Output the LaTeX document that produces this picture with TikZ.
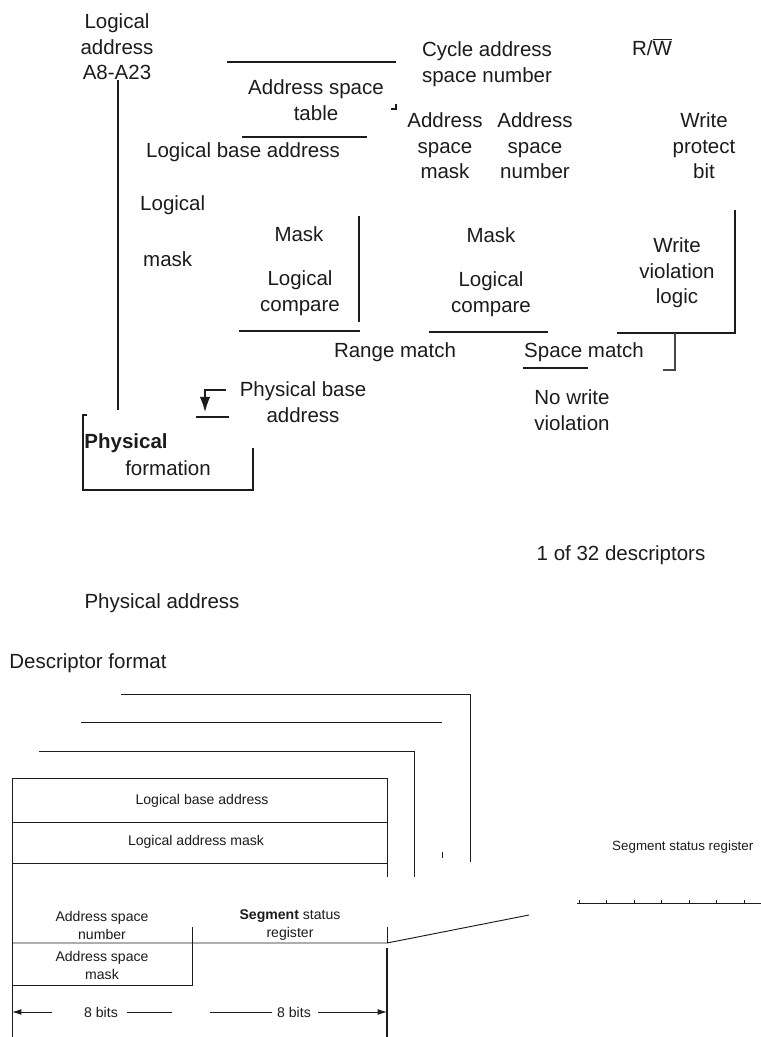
\documentclass[tikz,border=0pt]{standalone}
\usepackage{fontspec}
\setmainfont{Liberation Sans}
\usetikzlibrary{arrows.meta}

\begin{document}
\begin{tikzpicture}[x=0.03cm, y=-0.03cm,
    lbl/.style={font=\fontsize{17.5}{21.8}\selectfont, align=center, inner sep=0pt, text=ink},
    fmt/.style={font=\fontsize{12}{15.4}\selectfont, align=center, inner sep=0pt, text=ink},
    rule/.style={line width=1.1pt, draw=ink},
    fine/.style={line width=0.8pt, draw=ink}]
    % Colours of the scan
    \definecolor{ink}{RGB}{28, 28, 28}
    \definecolor{inkgray}{RGB}{70, 70, 70}

    \useasboundingbox[fill=white] (0,0) rectangle (761,1037);

    % Address space table, upper part
    \node[lbl] (LogAddr) at (117,47) {Logical\\address\\A8-A23};
    \node[lbl] (ASTable) at (316,100) {Address space\\table};
    \node[lbl] (LogBase) at (243,152) {Logical base address};
    \node[lbl] (CycleASN) at (487,64) {Cycle address\\space number};
    \node[lbl] (RW) at (652,47) {R/$\overline{\hbox{W}}$};
    \node[lbl] (ASMask) at (445,146) {Address\\space\\mask};
    \node[lbl] (ASNum) at (535,146) {Address\\space\\number};
    \node[lbl] (WPBit) at (704,146) {Write\\protect\\bit};

    \draw[rule] (118,80) -- (118,410);
    \draw[rule] (227,62) -- (396,62);
    \draw[rule] (391,109) -- (396,109) -- (396,104);
    \draw[rule] (242,137) -- (367,137);

    % Compare blocks
    \node[lbl, anchor=west] (LMLogical) at (140,205) {Logical};
    \node[lbl, anchor=west] (LMMask) at (143,259) {mask};
    \node[lbl] (MaskA) at (299,234) {Mask};
    \node[lbl] (CmpA) at (300,293) {Logical\\compare};
    \node[lbl] (MaskB) at (491,235) {Mask};
    \node[lbl] (CmpB) at (491,294) {Logical\\compare};
    \node[lbl] (WVLogic) at (677,273) {Write\\violation\\logic};

    \draw[rule] (359,216) -- (359,322);
    \draw[rule] (239,331) -- (360,331);
    \draw[rule] (429,332) -- (548,332);
    \draw[rule] (735,210) -- (735,333) -- (617,333);

    % Match outputs
    \node[lbl] (Range) at (395,352) {Range match};
    \node[lbl] (Space) at (584,352) {Space match};
    \node[lbl] (NoWrite) at (572,410) {No write\\violation};
    \draw[rule] (523,368) -- (588,368);
    \draw[line width=1.8pt, draw=inkgray] (675,333) -- (675,370) -- (663,370);

    % Physical address formation
    \node[lbl] (PhysBase) at (303,402) {Physical base\\address};
    \draw[rule, -{Latex[length=13pt, width=9pt]}] (226,390) -- (205,390) -- (205,412);
    \draw[line width=1.6pt, draw=ink] (196,417) -- (229,417);
    \node[lbl, font=\fontsize{17.5}{21.8}\selectfont\bfseries] (PhysA) at (126,443) {Physical};
    \node[lbl] (PhysB) at (168,468) {formation};
    \draw[rule] (87,415) -- (83,415) -- (83,490) -- (253,490) -- (253,448);

    \node[lbl] (NDesc) at (621,555) {1 of 32 descriptors};
    \node[lbl] (PhysAddr) at (162,603) {Physical address};
    \node[lbl] (DescFmt) at (88,663) {Descriptor format};

    % Descriptor format, stacked sheets
    \draw[fine] (121,694) -- (470,694) -- (470,862);
    \draw[fine] (81,722) -- (442,722);
    \draw[fine] (442,852) -- (442,858);
    \draw[fine] (39,751) -- (414,751) -- (414,877);

    % Front descriptor
    \draw[fine] (12,1037) -- (12,778) -- (387,778) -- (387,877);
    \draw[fine] (12,822) -- (387,822);
    \draw[fine] (12,863) -- (387,863);
    \draw[fine] (387,927) -- (387,943);
    \draw[line width=1.3pt, draw=ink] (387,948) -- (387,1037);
    \draw[fine] (12,943) -- (387,943) -- (529,915);
    \draw[fine] (192,927) -- (192,985);
    \draw[fine] (12,985) -- (193,985);

    \node[fmt] (LBA) at (202,801) {Logical base address};
    \node[fmt] (LAM) at (196,842) {Logical address mask};
    \node[fmt] (ASN) at (102,925) {Address space\\number};
    \node[fmt] (SSR) at (290,925) {\textbf{Segment} status\\register};
    \node[fmt] (ASM) at (102,965) {Address space\\mask};

    % Field widths
    \node[fmt] (BitsA) at (101,1012) {8 bits};
    \node[fmt] (BitsB) at (294,1012) {8 bits};
    \draw[fine, -{Latex[length=8pt, width=5pt]}] (52,1012) -- (12,1012);
    \draw[fine] (127,1012) -- (172,1012);
    \draw[fine] (210,1012) -- (272,1012);
    \draw[fine, -{Latex[length=8pt, width=5pt]}] (318,1012) -- (387,1012);

    % Segment status register
    \node[fmt, font=\fontsize{11.4}{14}\selectfont, anchor=west] (SSRight) at (612,847) {Segment status register};
    \draw[fine] (577,903) -- (761,903);
    \foreach \t in {0,...,6}
        \draw[fine] (579+27.5*\t,903) -- (579+27.5*\t,900);

\end{tikzpicture}
\end{document}
